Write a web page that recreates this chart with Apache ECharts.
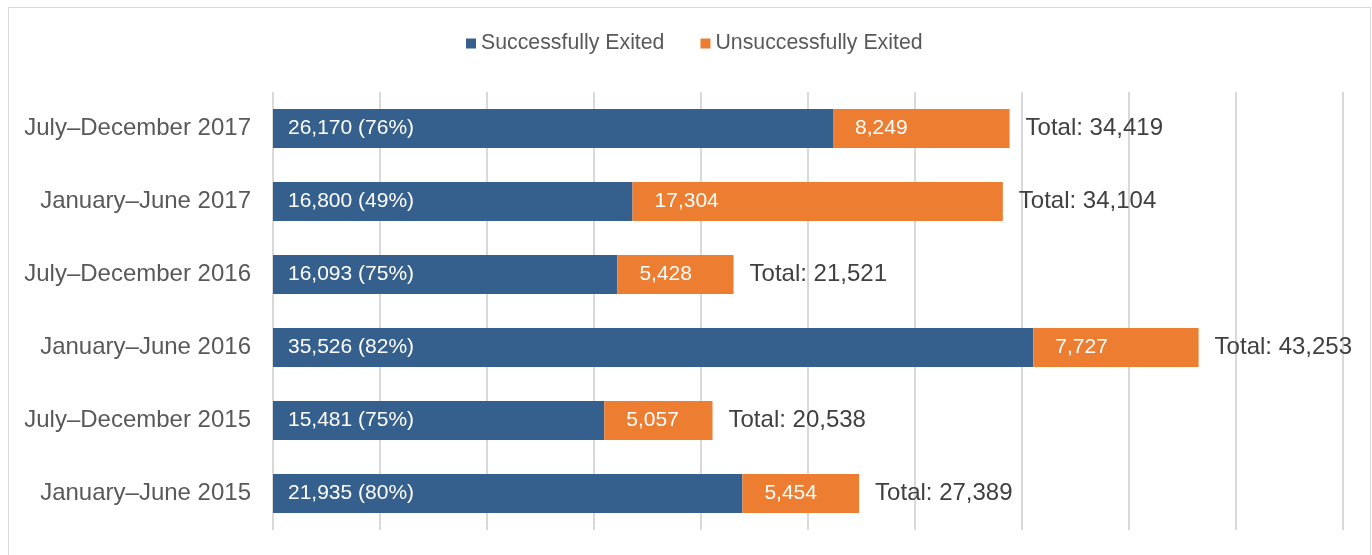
<!DOCTYPE html>
<html>
<head>
<meta charset="utf-8">
<script src="https://cdn.jsdelivr.net/npm/echarts@6/dist/echarts.min.js"></script>
<style>
  html, body { margin: 0; padding: 0; background: #fff; }
  #frame { position: absolute; left: 8px; top: 7px; width: 1363px; height: 560px; border: 1px solid #d9d9d9; box-sizing: border-box; }
  #chart { position: absolute; left: 0; top: 0; width: 1372px; height: 555px; }
</style>
</head>
<body>
<div id="frame"></div>
<div id="chart"></div>
<script>
// categories listed top to bottom
const periods = ['July–December 2017', 'January–June 2017', 'July–December 2016', 'January–June 2016', 'July–December 2015', 'January–June 2015'];
const successful = [26170, 16800, 16093, 35526, 15481, 21935];
const successPct = [76, 49, 75, 82, 75, 80];
const unsuccessful = [8249, 17304, 5428, 7727, 5057, 5454];
const totals = [34419, 34104, 21521, 43253, 20538, 27389];

const fmt = v => v.toLocaleString('en-US');
const font = '"Liberation Sans", Arial, sans-serif';

const chart = echarts.init(document.getElementById('chart'));

chart.setOption({
  animation: false,
  textStyle: { fontFamily: font },
  legend: {
    top: 28,
    left: 461,
    itemWidth: 10,
    itemHeight: 10,
    itemGap: 36,
    icon: 'rect',
    data: ['Successfully Exited', 'Unsuccessfully Exited'],
    textStyle: { fontSize: 21.3, color: '#595959', fontFamily: font }
  },
  grid: { left: 273, right: 29, top: 92, height: 438, containLabel: false },
  xAxis: {
    type: 'value',
    min: 0,
    max: 50000,
    interval: 5000,
    axisLabel: { show: false },
    axisLine: { show: false },
    axisTick: { show: false },
    splitLine: { lineStyle: { color: '#d9d9d9', width: 2 } }
  },
  yAxis: {
    type: 'category',
    inverse: true,
    data: periods,
    axisLine: { show: false },
    axisTick: { show: false },
    axisLabel: { fontSize: 24, color: '#595959', margin: 22, fontFamily: font, lineHeight: 28, padding: [4, 0, 0, 0] }
  },
  series: [
    {
      name: 'Successfully Exited',
      type: 'bar',
      stack: 'total',
      barWidth: 39,
      data: successful,
      itemStyle: { color: '#355f8d' },
      label: {
        show: true,
        position: 'insideLeft',
        distance: 15,
        color: '#fff',
        fontSize: 21,
        fontFamily: font,
        formatter: p => fmt(p.value) + ' (' + successPct[p.dataIndex] + '%)'
      }
    },
    {
      name: 'Unsuccessfully Exited',
      type: 'bar',
      stack: 'total',
      data: unsuccessful,
      itemStyle: { color: '#ed7d31' },
      label: {
        show: true,
        position: 'insideLeft',
        distance: 22,
        color: '#fff',
        fontSize: 21,
        fontFamily: font,
        formatter: p => fmt(p.value)
      }
    },
    {
      name: 'Total',
      type: 'bar',
      stack: 'total',
      data: totals.map(() => 0),
      itemStyle: { color: 'transparent' },
      label: {
        show: true,
        position: 'right',
        distance: 16,
        color: '#404040',
        fontSize: 24,
        fontFamily: font,
        formatter: p => 'Total: ' + fmt(totals[p.dataIndex])
      }
    }
  ]
});
</script>
</body>
</html>
